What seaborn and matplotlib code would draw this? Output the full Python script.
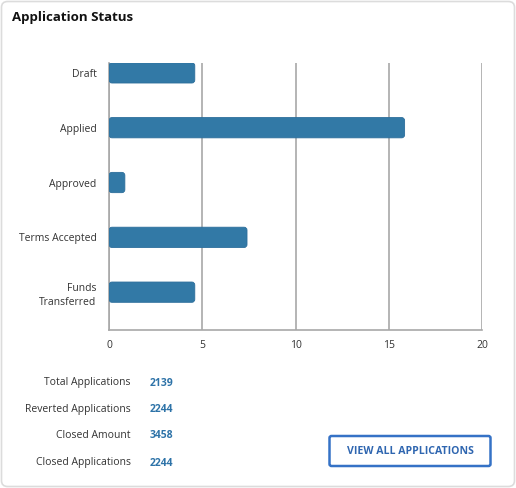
import matplotlib
matplotlib.use("Agg")
import matplotlib.pyplot as plt
from matplotlib.patches import FancyBboxPatch
import pandas as pd
import seaborn as sns

sns.set_style("white")
plt.rcParams['font.family'] = ['Open Sans', 'DejaVu Sans']

# data
statuses = ["Draft", "Applied", "Approved", "Terms Accepted", "Funds\nTransferred"]
counts = [4.6, 15.85, 0.85, 7.4, 4.6]
x_ticks = [0, 5, 10, 15, 20]

stat_labels = ["Total Applications", "Reverted Applications", "Closed Amount", "Closed Applications"]
stat_values = ["2139", "2244", "3458", "2244"]

df = pd.DataFrame({"status": statuses, "count": counts})

W, H = 516, 488
fig = plt.figure(figsize=(W / 100, H / 100), dpi=100)

# card background
card = FancyBboxPatch((1.5 / W, 1.5 / H), (W - 3) / W, (H - 3) / H,
                      boxstyle="round,pad=0,rounding_size=0.012",
                      transform=fig.transFigure, facecolor="white",
                      edgecolor="#dcdcdc", linewidth=1.2, zorder=-10)
fig.patches.append(card)

fig.text(12 / W, 1 - 17 / H, "Application Status", fontsize=9.5, fontweight="bold",
         color="#111111", va="center", ha="left")

ax = fig.add_axes([109 / W, 1 - 330 / H, 373 / W, 267 / H])
ax.set_zorder(1)
ax.set_facecolor("none")
sns.barplot(data=df, y="status", x="count", orient="h", ax=ax, width=0.37,
            color="#3279a6", saturation=1, zorder=3)

ax.set_xlim(0, 20)
ax.set_ylim(4.69, -0.18)
ax.set_xticks(x_ticks)
ax.grid(axis="x", color="#a8a8a8", linewidth=1.2, zorder=1)
ax.grid(axis="y", visible=False)
for s in ["top", "right"]:
    ax.spines[s].set_visible(False)
for s in ["left", "bottom"]:
    ax.spines[s].set_color("#a8a8a8")
    ax.spines[s].set_linewidth(1.2)
ax.tick_params(axis="both", length=0, labelsize=7.5, colors="#333333")
ax.tick_params(axis="y", pad=9)
ax.tick_params(axis="x", pad=7)
ax.set_xlabel("")
ax.set_ylabel("")
for lab in ax.get_yticklabels():
    lab.set_multialignment("right")
    lab.set_linespacing(1.45)

# rounded bars: replace seaborn rectangles with rounded versions of same geometry
xpp = 20 / 373
ypp = (4.69 + 0.18) / 267
for p in list(ax.patches):
    x0, y0, w, h = p.get_x(), p.get_y(), p.get_width(), p.get_height()
    p.set_visible(False)
    r = min(3 * xpp, w / 2)
    rb = FancyBboxPatch((x0, y0), w, h,
                        boxstyle=f"round,pad=0,rounding_size={r}",
                        mutation_aspect=ypp / xpp,
                        facecolor="#3279a6", edgecolor="#2c6e9b",
                        linewidth=0.6, zorder=3)
    ax.add_patch(rb)

# summary stats
ys = [383, 409.5, 436, 463]
for lab, val, y in zip(stat_labels, stat_values, ys):
    fig.text(131 / W, 1 - y / H, lab, fontsize=7.5, color="#333333",
             ha="right", va="center")
    fig.text(150 / W, 1 - y / H, val, fontsize=7.5, color="#2e73a8",
             fontweight="bold", ha="left", va="center")

# button
btn = FancyBboxPatch((329.5 / W, 1 - 466 / H), 161 / W, 30 / H,
                     boxstyle="round,pad=0,rounding_size=0.004",
                     transform=fig.transFigure, facecolor="white",
                     edgecolor="#3572c6", linewidth=1.8, zorder=2)
fig.patches.append(btn)
fig.text(410 / W, 1 - 451 / H, "VIEW ALL APPLICATIONS", fontsize=7.6,
         fontweight="bold", color="#2f66b0", ha="center", va="center")

fig.savefig("out.png", dpi=100)
